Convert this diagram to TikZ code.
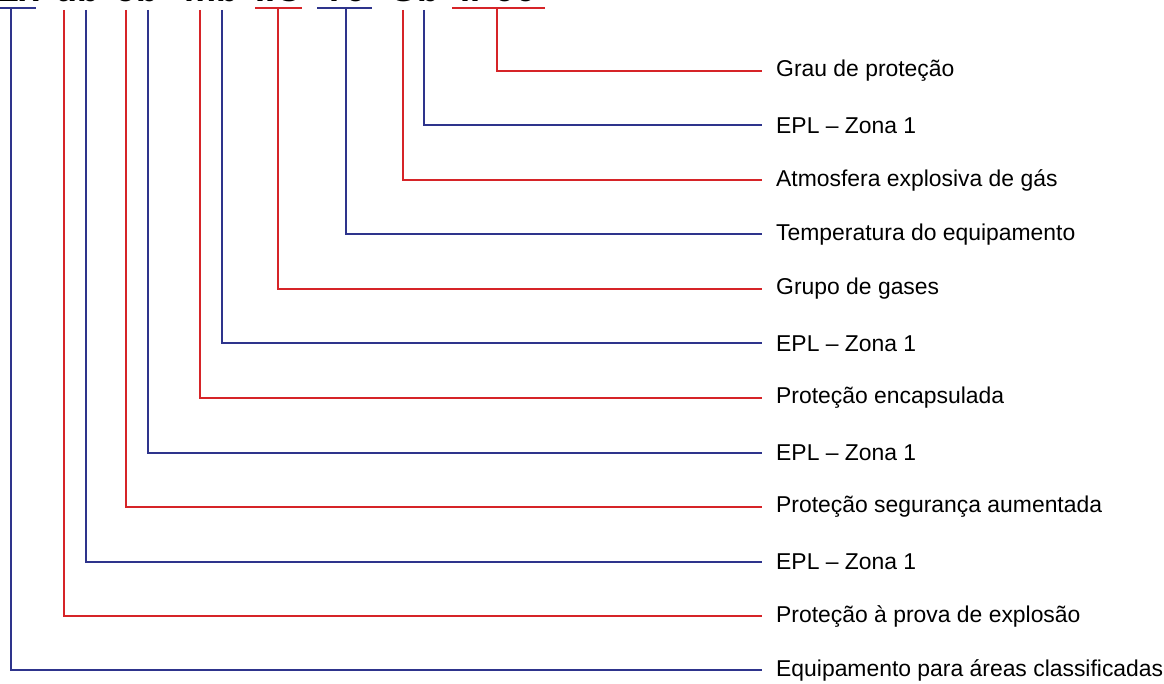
\documentclass[tikz,border=0pt]{standalone}
\usepackage{fontspec}
\setmainfont{Liberation Sans}
\definecolor{cred}{RGB}{214,36,40}
\definecolor{cblue}{RGB}{46,52,140}
\begin{document}
\begin{tikzpicture}[x=1pt,y=-1pt,
  conn/.style={line width=2pt},
  rl/.style={conn,draw=cred},
  bl/.style={conn,draw=cblue},
  lab/.style={anchor=west,inner xsep=14pt,inner ysep=0pt,font=\fontsize{22.9}{26}\selectfont,text=black},
  code/.style={anchor=base,inner sep=0pt,font=\fontsize{36}{40}\selectfont\bfseries}]
\useasboundingbox (0,0) rectangle (1164,684);
% code text (cut off at top of picture)
\node[code] (tEx) at (18,2) {Ex};
\node[code] (tdb) at (77,2) {db};
\node[code] (teb) at (137,2) {eb};
\node[code] (tmb) at (211,2) {mb};
\node[code] (tIIC) at (278,2) {IIC};
\node[code] (tT6) at (345,2) {T6};
\node[code] (tGb) at (414,2) {Gb};
\node[code] (tIP) at (498,2) {IP66};
% labels
\node[lab] (l1) at (762,71) {Grau de proteção};
\node[lab] (l2) at (762,125.5) {EPL – Zona 1};
\node[lab] (l3) at (762,180) {Atmosfera explosiva de gás};
\node[lab] (l4) at (762,234.5) {Temperatura do equipamento};
\node[lab] (l5) at (762,289) {Grupo de gases};
\node[lab] (l6) at (762,343.5) {EPL – Zona 1};
\node[lab] (l7) at (762,398) {Proteção encapsulada};
\node[lab] (l8) at (762,452.5) {EPL – Zona 1};
\node[lab] (l9) at (762,507) {Proteção segurança aumentada};
\node[lab] (l10) at (762,561.5) {EPL – Zona 1};
\node[lab] (l11) at (762,616) {Proteção à prova de explosão};
\node[lab] (l12) at (762,670) {Equipamento para áreas classificadas};
% underlines
\coordinate (uExa) at (0,8); \coordinate (uExb) at (36,8);
\coordinate (uIICa) at (255,8); \coordinate (uIICb) at (302,8);
\coordinate (uT6a) at (317,8); \coordinate (uT6b) at (372,8);
\coordinate (uIPa) at (452,8); \coordinate (uIPb) at (545,8);
\draw[bl] (uExa) -- (uExb);
\draw[rl] (uIICa) -- (uIICb);
\draw[bl] (uT6a) -- (uT6b);
\draw[rl] (uIPa) -- (uIPb);
% line tops
\coordinate (p1) at (497,8);
\coordinate (p2) at (424,10);
\coordinate (p3) at (403,10);
\coordinate (p4) at (346,8);
\coordinate (p5) at (278,8);
\coordinate (p6) at (222,10);
\coordinate (p7) at (200,10);
\coordinate (p8) at (148,10);
\coordinate (p9) at (126,10);
\coordinate (p10) at (86,10);
\coordinate (p11) at (64,10);
\coordinate (p12) at (11,8);
% connectors
\draw[rl] (p1) |- (l1.west);
\draw[bl] (p2) |- (l2.west);
\draw[rl] (p3) |- (l3.west);
\draw[bl] (p4) |- (l4.west);
\draw[rl] (p5) |- (l5.west);
\draw[bl] (p6) |- (l6.west);
\draw[rl] (p7) |- (l7.west);
\draw[bl] (p8) |- (l8.west);
\draw[rl] (p9) |- (l9.west);
\draw[bl] (p10) |- (l10.west);
\draw[rl] (p11) |- (l11.west);
\draw[bl] (p12) |- (l12.west);
\end{tikzpicture}
\end{document}
